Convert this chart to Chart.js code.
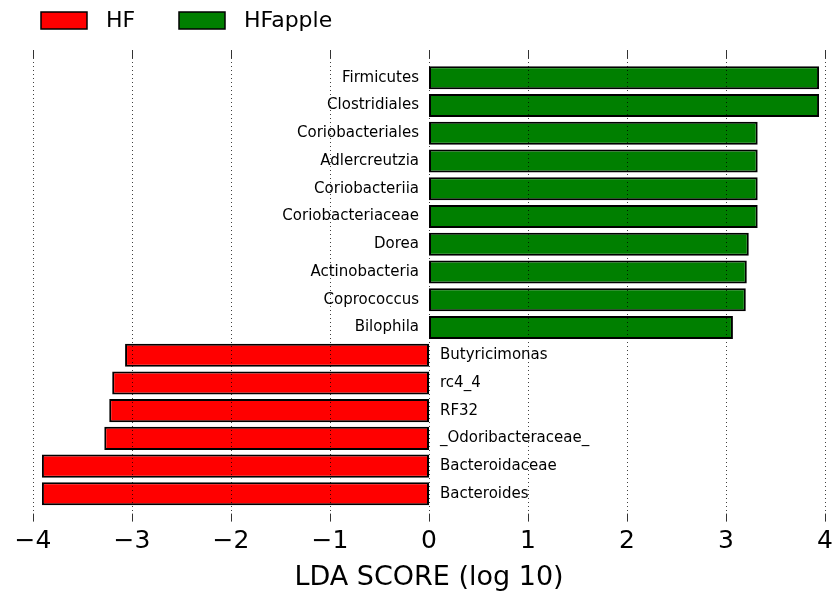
<!DOCTYPE html>
<html>
<head>
<meta charset="utf-8">
<script src="https://cdn.jsdelivr.net/npm/chart.js@4/dist/chart.umd.min.js"></script>
<style>
    body { margin: 0; background: #ffffff; }
    #box { width: 835px; height: 594px; }
</style>
</head>
<body>
<div id="box"><canvas id="LDA" width="835" height="594"></canvas></div>
<script>
// groups of the LEfSe run
var groups = ["HF", "HFapple"];
var groupColors = ["#ff0000", "#007f00"];

// taxa enriched in HFapple (top half, positive LDA)
var appleTaxa = ["Firmicutes", "Clostridiales", "Coriobacteriales", "Adlercreutzia", "Coriobacteriia",
    "Coriobacteriaceae", "Dorea", "Actinobacteria", "Coprococcus", "Bilophila"];
var appleScores = [3.94, 3.94, 3.32, 3.32, 3.32, 3.32, 3.23, 3.21, 3.20, 3.07];

// taxa enriched in HF (bottom half, drawn negative)
var hfTaxa = ["Butyricimonas", "rc4_4", "RF32", "_Odoribacteraceae_", "Bacteroidaceae", "Bacteroides"];
var hfScores = [-3.07, -3.20, -3.23, -3.28, -3.91, -3.91];

var xTicks = [-4, -3, -2, -1, 0, 1, 2, 3, 4];
var xTitle = "LDA SCORE (log 10)";

Chart.defaults.font.family = "'DejaVu Sans', sans-serif";
Chart.defaults.color = "#000000";

// names written next to the zero line, on the other side of the bar
var barNames = {
    id: 'barNames',
    afterDatasetsDraw: function (chart) {
        var ctx = chart.ctx;
        var x0 = chart.scales.x.getPixelForValue(0);
        ctx.save();
        ctx.font = "15px 'DejaVu Sans'";
        ctx.fillStyle = "#000000";
        ctx.textBaseline = "middle";
        chart.data.datasets.forEach(function (ds, di) {
            var meta = chart.getDatasetMeta(di);
            meta.data.forEach(function (bar, i) {
                var v = ds.data[i];
                if (v == null) { return; }
                var name = chart.data.labels[i];
                if (v > 0) {
                    ctx.textAlign = "right";
                    ctx.fillText(name, x0 - 10, bar.y);
                } else {
                    ctx.textAlign = "left";
                    ctx.fillText(name, x0 + 11, bar.y);
                }
            });
        });
        ctx.restore();
    }
};

// dotted grid over the bars + inner tick marks at top and bottom
var dotGrid = {
    id: 'dotGrid',
    afterDatasetsDraw: function (chart) {
        var ctx = chart.ctx;
        var sc = chart.scales.x;
        var a = chart.chartArea;
        ctx.save();
        sc.ticks.forEach(function (t) {
            var x = Math.round(sc.getPixelForValue(t.value)) + 0.5;
            ctx.strokeStyle = "rgba(0,0,0,0.75)";
            ctx.lineWidth = 1;
            ctx.setLineDash([1, 3]);
            ctx.beginPath();
            ctx.moveTo(x, a.top);
            ctx.lineTo(x, a.bottom);
            ctx.stroke();
            ctx.setLineDash([]);
            ctx.strokeStyle = "#333333";
            ctx.beginPath();
            ctx.moveTo(x, a.top);
            ctx.lineTo(x, a.top + 8);
            ctx.moveTo(x, a.bottom - 8);
            ctx.lineTo(x, a.bottom);
            ctx.stroke();
        });
        ctx.restore();
    }
};

// legend in the top left corner
var groupLegend = {
    id: 'groupLegend',
    afterDraw: function (chart) {
        var ctx = chart.ctx;
        ctx.save();
        var x = 41;
        chart.data.datasets.forEach(function (ds) {
            ctx.fillStyle = ds.backgroundColor;
            ctx.fillRect(x, 12, 46, 17);
            ctx.strokeStyle = "#000000";
            ctx.lineWidth = 1.5;
            ctx.strokeRect(x, 12, 46, 17);
            ctx.fillStyle = "#000000";
            ctx.font = "22px 'DejaVu Sans'";
            ctx.textAlign = "left";
            ctx.textBaseline = "middle";
            ctx.fillText(ds.label, x + 65, 21);
            x += 138;
        });
        ctx.restore();
    }
};

function chartLDA(name) {
    // one empty slot above and below so the bars sit like in the plot
    var labels = [""].concat(appleTaxa, hfTaxa, [""]);
    var dApple = [null];
    var dHF = [null];
    for (var i = 0; i < appleTaxa.length; i++) {
        dApple.push(appleScores[i]);
        dHF.push(null);
    }
    for (var i = 0; i < hfTaxa.length; i++) {
        dApple.push(null);
        dHF.push(hfScores[i]);
    }
    dApple.push(null);
    dHF.push(null);

    var ctx = document.getElementById(name).getContext('2d');
    var myChart = new Chart(ctx, {
        type: 'bar',
        data: {
            labels: labels,
            datasets: [{
                label: groups[0],
                data: dHF,
                backgroundColor: groupColors[0],
                borderColor: "#000000",
                borderWidth: 2,
                borderSkipped: false
            }, {
                label: groups[1],
                data: dApple,
                backgroundColor: groupColors[1],
                borderColor: "#000000",
                borderWidth: 2,
                borderSkipped: false
            }]
        },
        options: {
            indexAxis: 'y',
            responsive: false,
            animation: false,
            devicePixelRatio: 1,
            layout: {
                padding: { top: 50, left: 33, right: 10, bottom: 0 }
            },
            datasets: {
                bar: { barPercentage: 0.83, categoryPercentage: 1 }
            },
            scales: {
                x: {
                    min: xTicks[0],
                    max: xTicks[xTicks.length - 1],
                    stacked: true,
                    border: { display: false },
                    grid: { display: false, drawTicks: false },
                    afterBuildTicks: function (axis) {
                        axis.ticks = xTicks.map(function (v) { return { value: v }; });
                    },
                    afterFit: function (axis) {
                        // the "4" label may hang out a bit, like in the original
                        axis.paddingRight = 0;
                    },
                    ticks: {
                        padding: 6,
                        font: { size: 25, lineHeight: 1.12 },
                        color: "#000000",
                        callback: function (v) {
                            return v < 0 ? "\u2212" + Math.abs(v) : String(v);
                        }
                    },
                    title: {
                        display: true,
                        text: xTitle,
                        font: { size: 27 },
                        color: "#000000",
                        padding: { top: 0, bottom: 0 }
                    }
                },
                y: {
                    display: false,
                    stacked: true,
                    offset: false
                }
            },
            plugins: {
                legend: { display: false },
                tooltip: { enabled: false }
            }
        },
        plugins: [barNames, dotGrid, groupLegend]
    });
}

chartLDA("LDA");
</script>
</body>
</html>
